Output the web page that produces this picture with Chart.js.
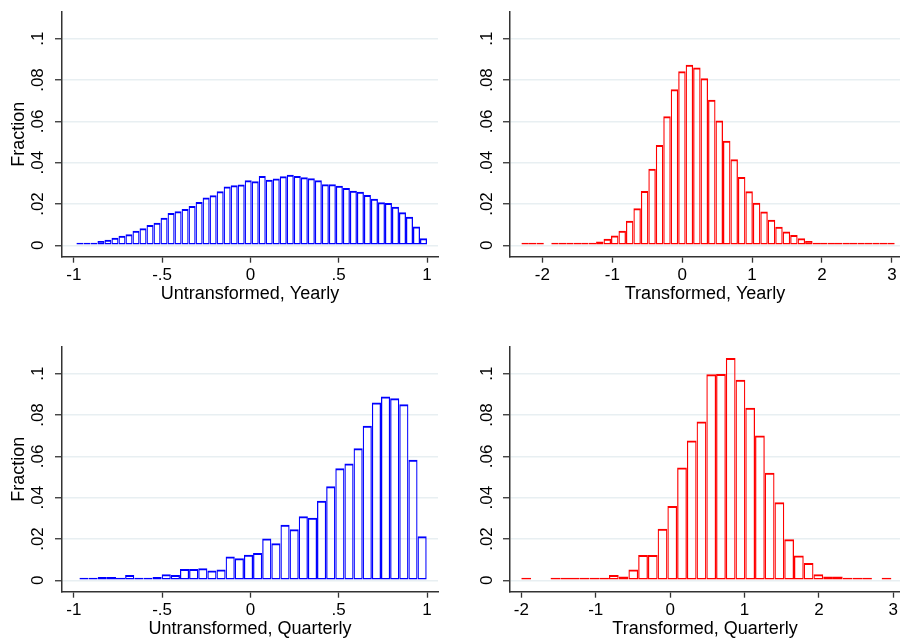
<!DOCTYPE html>
<html>
<head>
<meta charset="utf-8">
<script src="https://cdn.jsdelivr.net/npm/chart.js@4.4.1/dist/chart.umd.min.js"></script>
<style>
  body { margin: 0; background: #fff; overflow: hidden; width: 900px; height: 639px; }
  canvas { position: absolute; }
</style>
</head>
<body>
<canvas id="uy" width="450" height="320" style="left:0;top:0"></canvas>
<canvas id="ty" width="450" height="320" style="left:450px;top:0"></canvas>
<canvas id="uq" width="450" height="320" style="left:0;top:335px"></canvas>
<canvas id="tq" width="450" height="320" style="left:450px;top:335px"></canvas>
<script>
// fraction per bin (null = empty bin)
var uyStart = -0.985, uyWidth = 0.0397;
var uyVals = [0.0003, 0.0006, 0.0007, 0.0021, 0.0027, 0.0037, 0.0046, 0.0054, 0.0070, 0.0083,
              0.0098, 0.0109, 0.0133, 0.0157, 0.0165, 0.0176, 0.0190, 0.0210, 0.0232, 0.0242,
              0.0262, 0.0285, 0.0291, 0.0294, 0.0315, 0.0310, 0.0336, 0.0317, 0.0323, 0.0334,
              0.0341, 0.0336, 0.0330, 0.0325, 0.0315, 0.0296, 0.0296, 0.0288, 0.0278, 0.0264,
              0.0259, 0.0243, 0.0226, 0.0208, 0.0205, 0.0187, 0.0160, 0.0138, 0.0091, 0.0034];

var tyStart = -2.30, tyWidth = 0.1068;
var tyVals = [0.0003, 0.0003, 0.0003, null, 0.0002, 0.0002, 0.0003, 0.0005, 0.0006, 0.0010,
              0.0018, 0.0032, 0.0048, 0.0071, 0.0119, 0.0180, 0.0263, 0.0370, 0.0485, 0.0625,
              0.0755, 0.0842, 0.0874, 0.0861, 0.0808, 0.0704, 0.0604, 0.0506, 0.0416, 0.0331,
              0.0262, 0.0206, 0.0164, 0.0124, 0.0090, 0.0067, 0.0050, 0.0034, 0.0021, 0.0013,
              0.0010, 0.0006, 0.0005, 0.0003, 0.0003, 0.0002, 0.0002, 0.0002, 0.0001, 0.0001];

var uqStart = -0.968, uqWidth = 0.05174;
var uqVals = [0.0003, 0.0008, 0.0016, 0.0016, 0.0003, 0.0026, 0.0013, 0.0010, 0.0016, 0.0029,
              0.0026, 0.0055, 0.0055, 0.0058, 0.0047, 0.0052, 0.0115, 0.0107, 0.0124, 0.0132,
              0.0202, 0.0179, 0.0269, 0.0247, 0.0310, 0.0303, 0.0385, 0.0455, 0.0542, 0.0565,
              0.0639, 0.0748, 0.0861, 0.0890, 0.0881, 0.0852, 0.0584, 0.0213];

var tqStart = -2.0, tqWidth = 0.1309;
var tqVals = [0.0003, null, null, 0.0003, 0.0004, 0.0004, 0.0010, 0.0010, 0.0013, 0.0026,
              0.0018, 0.0053, 0.0123, 0.0123, 0.0249, 0.0360, 0.0546, 0.0677, 0.0769, 0.0997,
              0.0998, 0.1076, 0.0971, 0.0835, 0.0701, 0.0520, 0.0378, 0.0199, 0.0120, 0.0084,
              0.0029, 0.0018, 0.0018, 0.0010, 0.0005, 0.0003, null, 0.0003];

var yTicks = [0, 0.02, 0.04, 0.06, 0.08, 0.1];
var yLabels = ['0', '.02', '.04', '.06', '.08', '.1'];
var uTicks = [-1, -0.5, 0, 0.5, 1];
var uLabels = ['-1', '-.5', '0', '.5', '1'];
var tTicks = [-2, -1, 0, 1, 2, 3];
var tLabels = ['-2', '-1', '0', '1', '2', '3'];

var fontFamily = 'Arial, "Liberation Sans", sans-serif';
var axisColor = '#333';
var gridColor = '#e8eff2';

function histogram(id, start, width, values, color, xTicks, xLabels, xMin, xMax, xTitle, yTitle, axisLeft, padRight, labelPad){
    var points = values.map(function(v, i){ return {x: start + (i + 0.5) * width, y: v}; });
    new Chart(document.getElementById(id), {
        type: 'bar',
        data: {
            datasets: [{
                data: points,
                borderColor: color,
                backgroundColor: 'rgba(255,255,255,0)',
                borderWidth: {top: 2, right: 1.25, bottom: 1.5, left: 1.25},
                borderSkipped: false,
                barPercentage: 1,
                categoryPercentage: 1,
                minBarLength: 2.5,
                inflateAmount: 0
            }]
        },
        options: {
            responsive: false,
            animation: false,
            layout: { padding: { top: 12, right: padRight, bottom: 0, left: 0 } },
            plugins: { legend: { display: false }, tooltip: { enabled: false } },
            scales: {
                x: {
                    type: 'linear', min: xMin, max: xMax, offset: false,
                    grid: { drawOnChartArea: false, offset: false, tickLength: 6, tickColor: axisColor, tickWidth: 1.3 },
                    border: { color: axisColor, width: 1.5 },
                    ticks: {
                        color: '#000', font: { family: fontFamily, size: 17 }, padding: 2,
                        maxRotation: 0, autoSkip: false,
                        callback: function(v, i){ return xLabels[i]; }
                    },
                    title: { display: true, text: xTitle, color: '#000', font: { family: fontFamily, size: 18 }, padding: { top: 0, bottom: 15.2 } },
                    afterBuildTicks: function(s){ s.ticks = xTicks.map(function(v){ return {value: v}; }); },
                    afterFit: function(s){ s.height = 63.3; s.paddingLeft = 0; s.paddingRight = 0; }
                },
                y: {
                    min: -0.0055, max: 0.1129,
                    grid: { color: gridColor, lineWidth: 1.5, tickLength: 7, tickColor: axisColor, tickWidth: 1.3 },
                    border: { color: axisColor, width: 1.5 },
                    ticks: {
                        color: '#000', font: { family: fontFamily, size: 17 }, padding: labelPad,
                        minRotation: 90, maxRotation: 90, crossAlign: 'center', autoSkip: false,
                        callback: function(v, i){ return yLabels[i]; }
                    },
                    title: { display: !!yTitle, text: yTitle, color: '#000', font: { family: fontFamily, size: 18 }, padding: { top: 8, bottom: 0 } },
                    afterBuildTicks: function(s){ s.ticks = yTicks.map(function(v){ return {value: v}; }); },
                    afterFit: function(s){ s.width = axisLeft; s.paddingTop = 0; s.paddingBottom = 0; }
                }
            }
        }
    });
}

histogram('uy', uyStart, uyWidth, uyVals, '#0000ff', uTicks, uLabels, -1.0667, 1.0622, 'Untransformed, Yearly', 'Fraction', 62, 12, 4.5);
histogram('ty', tyStart, tyWidth, tyVals, '#ff0000', tTicks, tLabels, -2.4635, 3.1159, 'Transformed, Yearly', '', 60, 0, 3.7);
histogram('uq', uqStart, uqWidth, uqVals, '#0000ff', uTicks, uLabels, -1.0667, 1.0622, 'Untransformed, Quarterly', 'Fraction', 62, 12, 4.5);
histogram('tq', tqStart, tqWidth, tqVals, '#ff0000', tTicks, tLabels, -2.152, 3.090, 'Transformed, Quarterly', '', 60, 0, 3.7);
</script>
</body>
</html>
